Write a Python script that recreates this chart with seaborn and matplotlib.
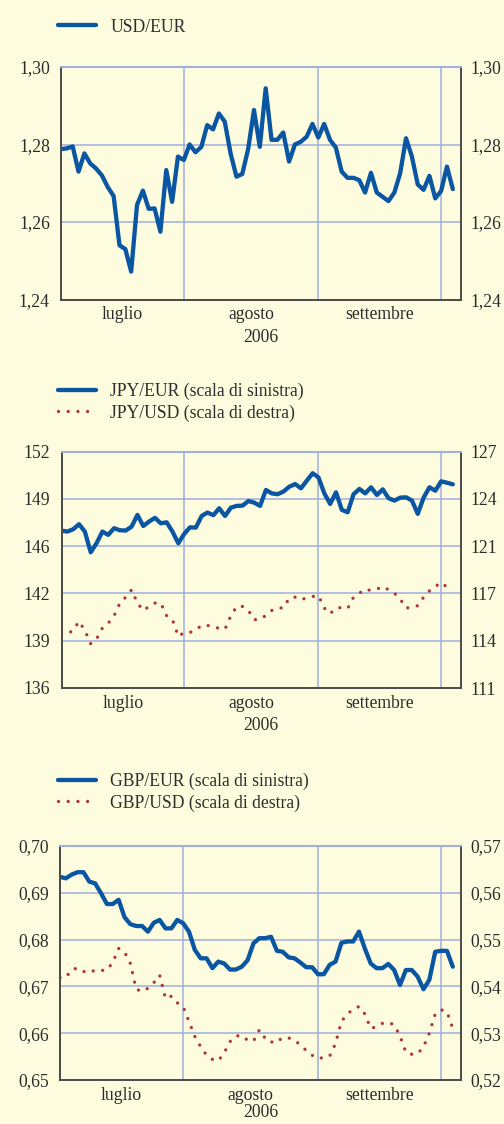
import numpy as np
import pandas as pd
import matplotlib
matplotlib.use("Agg")
import matplotlib.pyplot as plt
import seaborn as sns

# business days from 3 July to 4 October 2006
dates = pd.bdate_range("2006-07-03", periods=68)
months = ["luglio", "agosto", "settembre"]
year_label = "2006"

usd_eur = [1.2788, 1.2790, 1.2795, 1.2730, 1.2777, 1.2751, 1.2738, 1.2720, 1.2690, 1.2667,
           1.2540, 1.2530, 1.2472, 1.2644, 1.2681, 1.2634, 1.2635, 1.2575, 1.2734, 1.2652,
           1.2769, 1.2760, 1.2800, 1.2780, 1.2794, 1.2850, 1.2839, 1.2880, 1.2859, 1.2777,
           1.2717, 1.2724, 1.2788, 1.2889, 1.2794, 1.2945, 1.2812, 1.2812, 1.2831, 1.2756,
           1.2800, 1.2807, 1.2820, 1.2853, 1.2818, 1.2853, 1.2812, 1.2792, 1.2730, 1.2714,
           1.2714, 1.2708, 1.2676, 1.2727, 1.2676, 1.2665, 1.2654, 1.2676, 1.2726, 1.2816,
           1.2769, 1.2697, 1.2683, 1.2719, 1.2661, 1.2680, 1.2743, 1.2685]

jpy_eur = [146.66, 146.59, 146.75, 147.09, 146.59, 145.19, 145.80, 146.59, 146.37, 146.82,
           146.68, 146.66, 146.93, 147.72, 146.97, 147.27, 147.52, 147.15, 147.22, 146.59,
           145.80, 146.43, 146.88, 146.86, 147.65, 147.88, 147.70, 148.17, 147.65, 148.21,
           148.33, 148.35, 148.66, 148.55, 148.33, 149.41, 149.18, 149.12, 149.30, 149.63,
           149.81, 149.52, 150.04, 150.54, 150.26, 149.18, 148.46, 149.25, 148.06, 147.90,
           149.12, 149.48, 149.18, 149.59, 149.07, 149.45, 148.85, 148.69, 148.89, 148.91,
           148.69, 147.79, 148.89, 149.59, 149.36, 149.99, 149.90, 149.79]

jpy_usd = [114.72, 114.67, 114.90, 115.51, 114.90, 114.00, 114.31, 115.06, 115.39, 115.89,
           116.75, 117.15, 117.65, 116.75, 116.25, 116.52, 116.75, 116.75, 115.89, 115.62,
           114.49, 114.76, 114.76, 114.94, 115.24, 115.24, 115.10, 115.06, 114.99, 115.89,
           116.52, 116.52, 116.25, 115.62, 115.66, 115.91, 116.25, 116.41, 116.43, 117.08,
           117.15, 116.97, 117.11, 117.20, 117.24, 116.41, 116.03, 116.41, 116.45, 116.39,
           117.15, 117.42, 117.69, 117.60, 117.69, 117.87, 117.65, 117.42, 117.02, 116.41,
           116.48, 116.57, 117.15, 117.58, 117.87, 118.14, 117.83, 118.01]

gbp_eur = [0.6934, 0.6931, 0.6939, 0.6944, 0.6944, 0.6924, 0.6920, 0.6899, 0.6876, 0.6876,
           0.6885, 0.6848, 0.6833, 0.6829, 0.6829, 0.6817, 0.6836, 0.6842, 0.6824, 0.6824,
           0.6842, 0.6835, 0.6817, 0.6778, 0.6760, 0.6760, 0.6739, 0.6753, 0.6749, 0.6736,
           0.6736, 0.6742, 0.6756, 0.6792, 0.6803, 0.6803, 0.6806, 0.6776, 0.6774, 0.6762,
           0.6760, 0.6751, 0.6741, 0.6741, 0.6726, 0.6726, 0.6746, 0.6753, 0.6793, 0.6796,
           0.6796, 0.6817, 0.6781, 0.6749, 0.6739, 0.6739, 0.6748, 0.6735, 0.6703, 0.6735,
           0.6735, 0.6721, 0.6694, 0.6714, 0.6774, 0.6776, 0.6776, 0.6742]

gbp_usd = [0.5419, 0.5419, 0.5436, 0.5439, 0.5432, 0.5429, 0.5435, 0.5434, 0.5435, 0.5451,
           0.5481, 0.5474, 0.5449, 0.5394, 0.5389, 0.5396, 0.5408, 0.5424, 0.5374, 0.5379,
           0.5365, 0.5357, 0.5325, 0.5293, 0.5271, 0.5253, 0.5244, 0.5241, 0.5258, 0.5282,
           0.5294, 0.5295, 0.5285, 0.5283, 0.5307, 0.5289, 0.5280, 0.5289, 0.5285, 0.5290,
           0.5285, 0.5275, 0.5263, 0.5253, 0.5246, 0.5248, 0.5251, 0.5278, 0.5325, 0.5341,
           0.5351, 0.5357, 0.5341, 0.5310, 0.5314, 0.5321, 0.5323, 0.5318, 0.5294, 0.5259,
           0.5255, 0.5256, 0.5271, 0.5300, 0.5341, 0.5350, 0.5346, 0.5310]

usd_ticks = [1.24, 1.26, 1.28, 1.30]
usd_labels = ["1,24", "1,26", "1,28", "1,30"]
jpy_eur_ticks = [136, 139.2, 142.4, 145.6, 148.8, 152]
jpy_eur_labels = ["136", "139", "142", "146", "149", "152"]
jpy_usd_ticks = [111, 114.2, 117.4, 120.6, 123.8, 127]
jpy_usd_labels = ["111", "114", "117", "121", "124", "127"]
gbp_eur_ticks = [0.65, 0.66, 0.67, 0.68, 0.69, 0.70]
gbp_eur_labels = ["0,65", "0,66", "0,67", "0,68", "0,69", "0,70"]
gbp_usd_ticks = [0.52, 0.53, 0.54, 0.55, 0.56, 0.57]
gbp_usd_labels = ["0,52", "0,53", "0,54", "0,55", "0,56", "0,57"]

BG = "#fefcde"
BLUE = "#0a56a2"
RED = "#b03638"
GRID = "#a0afe0"
AXC = "#4d4d4d"
TXT = "#2b2b2b"
FS = 12.7
DOTS = (0, (0.01, 2.9))

sns.set_style("white")
plt.rcParams["font.family"] = ["Liberation Serif", "DejaVu Serif"]

x = np.arange(len(dates))
month_starts = [i for i in range(len(dates)) if i == 0 or dates[i].month != dates[i - 1].month]
month_mids = [(month_starts[k] + month_starts[k + 1]) / 2 for k in range(3)]


def style_axes(ax, ticks, labels, xlabelpad=4):
    ax.set_facecolor(BG)
    ax.set_xlim(0, 68.4)
    ax.set_ylim(ticks[0], ticks[-1])
    ax.set_yticks(ticks)
    ax.set_yticklabels(labels)
    ax.tick_params(axis="y", length=0, pad=8, labelsize=FS, labelcolor=TXT)
    ax.set_xticks(month_starts)
    ax.set_xticklabels([])
    ax.tick_params(axis="x", which="major", direction="out", length=5, width=1.3, color=AXC)
    ax.set_xticks(month_mids, minor=True)
    ax.set_xticklabels(months, minor=True)
    ax.tick_params(axis="x", which="minor", length=0, pad=5, labelsize=FS, labelcolor=TXT)
    ax.set_xlabel(year_label, fontsize=FS, color=TXT, labelpad=xlabelpad)
    ax.set_ylabel("")
    ax.grid(True, which="major", color=GRID, lw=1.1)
    for side in ["left", "right", "bottom"]:
        ax.spines[side].set_color(AXC)
        ax.spines[side].set_linewidth(1.3)
    ax.spines["top"].set_color(GRID)
    ax.spines["top"].set_linewidth(1.3)


def style_twin(ax2, ticks, labels):
    ax2.set_ylim(ticks[0], ticks[-1])
    ax2.set_yticks(ticks)
    ax2.set_yticklabels(labels)
    ax2.tick_params(axis="y", length=0, pad=7, labelsize=FS, labelcolor=TXT)
    ax2.set_ylabel("")
    ax2.grid(False)
    for side in ["left", "right", "bottom"]:
        ax2.spines[side].set_color(AXC)
        ax2.spines[side].set_linewidth(1.3)
    ax2.spines["top"].set_color(GRID)
    ax2.spines["top"].set_linewidth(1.3)


def add_legend(fig, handles, labels, ycenter):
    fig.legend(handles, labels, loc="center left", bbox_to_anchor=(58 / 504, 1 - ycenter / 1124),
               bbox_transform=fig.transFigure, frameon=False, borderpad=0, borderaxespad=0,
               handlelength=2.16, handletextpad=0.8, labelspacing=0.25,
               prop={"size": FS}, labelcolor=TXT)


fig = plt.figure(figsize=(5.04, 11.24), dpi=100, facecolor=BG)

# USD/EUR
ax1 = fig.add_axes([61 / 504, 1 - 299.5 / 1124, 400 / 504, 232.5 / 1124])
sns.lineplot(x=x, y=usd_eur, ax=ax1, color=BLUE, lw=3.1, legend=False)
style_axes(ax1, usd_ticks, usd_labels)
ax1r = ax1.twinx()
style_twin(ax1r, usd_ticks, usd_labels)
add_legend(fig, [ax1.lines[0]], ["USD/EUR"], 27)

# JPY
ax2 = fig.add_axes([61.5 / 504, 1 - 688 / 1124, 399.5 / 504, 236.3 / 1124])
sns.lineplot(x=x, y=jpy_eur, ax=ax2, color=BLUE, lw=3.1, legend=False)
style_axes(ax2, jpy_eur_ticks, jpy_eur_labels)
ax2r = ax2.twinx()
sns.lineplot(x=x, y=jpy_usd, ax=ax2r, color=RED, lw=2.4, linestyle=DOTS,
             dash_capstyle="round", legend=False)
style_twin(ax2r, jpy_usd_ticks, jpy_usd_labels)
ax2.set_xlim(0, 68.4)
add_legend(fig, [ax2.lines[0], ax2r.lines[0]],
           ["JPY/EUR (scala di sinistra)", "JPY/USD (scala di destra)"], 402)

# GBP
ax3 = fig.add_axes([60 / 504, 1 - 1080 / 1124, 401 / 504, 234 / 1124])
sns.lineplot(x=x, y=gbp_eur, ax=ax3, color=BLUE, lw=3.1, legend=False)
style_axes(ax3, gbp_eur_ticks, gbp_eur_labels, xlabelpad=0)
ax3r = ax3.twinx()
sns.lineplot(x=x, y=gbp_usd, ax=ax3r, color=RED, lw=2.4, linestyle=DOTS,
             dash_capstyle="round", legend=False)
style_twin(ax3r, gbp_usd_ticks, gbp_usd_labels)
ax3.set_xlim(0, 68.4)
add_legend(fig, [ax3.lines[0], ax3r.lines[0]],
           ["GBP/EUR (scala di sinistra)", "GBP/USD (scala di destra)"], 792)

fig.savefig("out.png", dpi=100, facecolor=BG)
